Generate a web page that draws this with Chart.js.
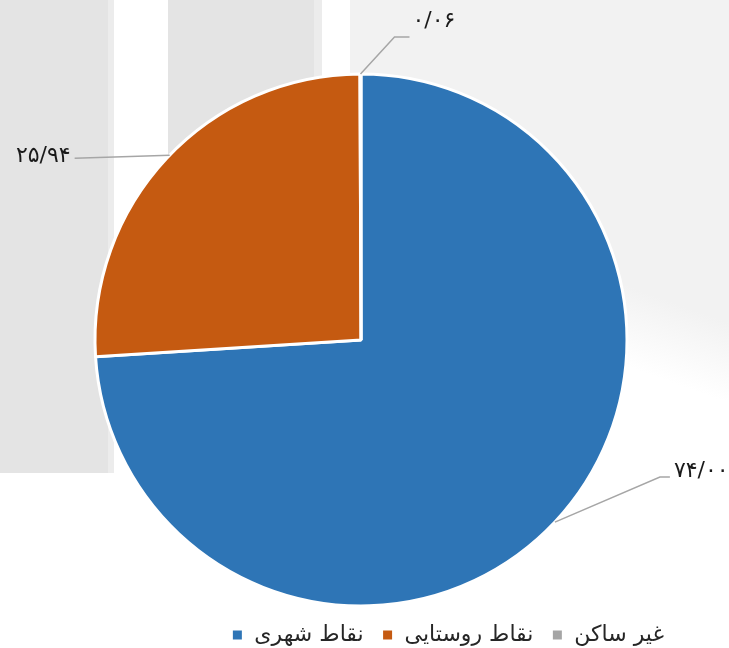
<!DOCTYPE html>
<html lang="fa">
<head>
<meta charset="utf-8">
<script src="https://cdn.jsdelivr.net/npm/chart.js@4/dist/chart.umd.min.js"></script>
<style>
  html, body { margin: 0; padding: 0; background: #ffffff; }
  #wrap { position: relative; width: 729px; height: 648px; overflow: hidden; }
  .bg { position: absolute; }
  #pie { position: absolute; left: 0; top: 0; }
</style>
</head>
<body>
<div id="wrap">
  <!-- پس‌زمینه کم‌رنگ -->
  <div class="bg" style="left:0;top:0;width:108px;height:473px;background:#e4e4e4;"></div>
  <div class="bg" style="left:108px;top:0;width:6px;height:473px;background:#ececec;"></div>
  <div class="bg" style="left:168px;top:0;width:146px;height:473px;background:#e4e4e4;"></div>
  <div class="bg" style="left:314px;top:0;width:8px;height:473px;background:#ececec;"></div>
  <div class="bg" style="left:350px;top:0;width:379px;height:400px;background:linear-gradient(200deg,#f2f2f2 0%,#f2f2f2 60%,#ffffff 75%);"></div>
  <canvas id="pie" width="729" height="648"></canvas>
</div>

<script>
// ==============================
//  داده‌ها
// ==============================
const categories = ["نقاط شهری", "نقاط روستایی", "غیر ساکن"];
const shares = [74.00, 25.94, 0.06];
const valueLabels = ["۷۴/۰۰", "۲۵/۹۴", "۰/۰۶"];
const sliceColors = ["#2E75B6", "#C55A11", "#A5A5A5"];

const FONT = "'DejaVu Sans', sans-serif";

// --- برچسب‌های بیرونی با خط راهنما ---
const leaderLabels = {
  id: "leaderLabels",
  afterDatasetsDraw(chart, args, opts) {
    const ctx = chart.ctx;
    const arcs = chart.getDatasetMeta(0).data;
    ctx.save();
    arcs.forEach((arc, i) => {
      const p = opts.items[i];
      const { x, y, startAngle, endAngle, outerRadius } = arc.getProps(
        ["x", "y", "startAngle", "endAngle", "outerRadius"], true);
      const a = p.angle != null ? p.angle * Math.PI / 180 : (startAngle + endAngle) / 2;
      const sx = x + outerRadius * Math.cos(a);
      const sy = y + outerRadius * Math.sin(a);
      const ex = sx + p.elbow[0], ey = sy + p.elbow[1];
      const tx = ex + p.tail;

      ctx.strokeStyle = "#a6a6a6";
      ctx.lineWidth = 1.5;
      ctx.beginPath();
      ctx.moveTo(sx, sy);
      ctx.lineTo(ex, ey);
      ctx.lineTo(tx, ey);
      ctx.stroke();

      ctx.fillStyle = "#1a1a1a";
      ctx.font = "22px " + FONT;
      ctx.textBaseline = "middle";
      ctx.textAlign = p.align;
      ctx.fillText(valueLabels[i], tx + p.text[0], ey + p.text[1]);
    });
    ctx.restore();
  }
};

new Chart(document.getElementById("pie"), {
  type: "pie",
  data: {
    labels: categories,
    datasets: [{
      data: shares,
      backgroundColor: sliceColors,
      borderColor: "#ffffff",
      borderWidth: 3,
      radius: 266
    }]
  },
  options: {
    responsive: false,
    animation: false,
    layout: { padding: { left: 40, right: 47, top: 74, bottom: -8 } },
    plugins: {
      legend: {
        position: "bottom",
        align: "end",
        labels: {
          font: { family: FONT, size: 22 },
          color: "#262626",
          boxWidth: 12,
          boxHeight: 12,
          padding: 18
        }
      },
      tooltip: { enabled: false },
      leaderLabels: {
        items: [
          { angle: null, elbow: [105, -45], tail: 10, align: "left", text: [4, -6] },
          { angle: 224, elbow: [-95, 3], tail: 0, align: "right", text: [-4, -2] },
          { angle: null, elbow: [34, -37], tail: 15, align: "left", text: [3, -16] }
        ]
      }
    }
  },
  plugins: [leaderLabels]
});
</script>
</body>
</html>
